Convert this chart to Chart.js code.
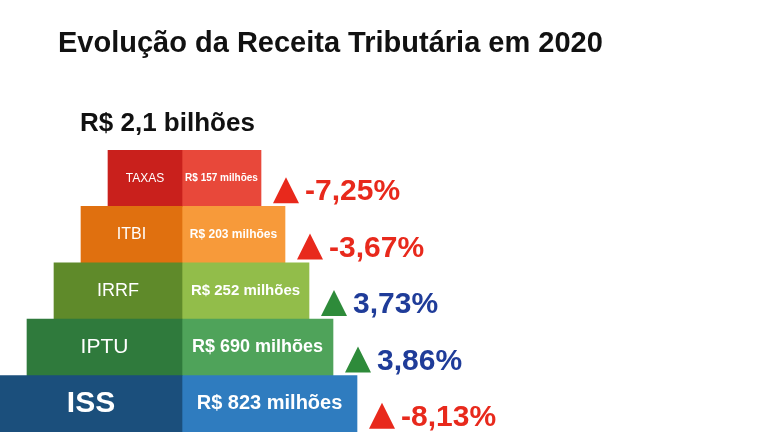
<!DOCTYPE html>
<html><head><meta charset="utf-8">
<script src="https://cdn.jsdelivr.net/npm/chart.js@4/dist/chart.umd.min.js"></script>
<style>html,body{margin:0;background:#fff}#wrap{width:768px;height:432px;position:relative}</style>
</head><body><div id="wrap"><canvas id="c" width="768" height="432"></canvas></div>
<script>
// pyramid, top tier first
var categories = ['TAXAS', 'ITBI', 'IRRF', 'IPTU', 'ISS'];
var receitas = ['R$ 157 milhões', 'R$ 203 milhões', 'R$ 252 milhões', 'R$ 690 milhões', 'R$ 823 milhões'];
var variacao = [-7.25, -3.67, 3.73, 3.86, -8.13];
var total = 'R$ 2,1 bilhões';

var darkColors = ['#c9201c', '#e0700f', '#5f8a2a', '#2f7a3c', '#1b4f7c'];
var lightColors = ['#e8483a', '#f79a3a', '#92bd4a', '#4fa35a', '#2f7cbf'];
var catFont = [12, 16, 18, 21, 30];
var valFont = [10, 12, 15, 18, 20];

// tier extents derived from level in the pyramid (0 = bottom)
var levels = categories.map(function(c, i) { return categories.length - 1 - i; });
var leftFaces = levels.map(function(l) { return [l * 27, 182]; });
var rightFaces = levels.map(function(l) { return [182, 357 - l * 24]; });

var labels = {
	id: 'labels',
	afterDatasetsDraw: function(chart) {
		var ctx = chart.ctx;
		ctx.save();
		ctx.fillStyle = '#111';
		ctx.textBaseline = 'middle';
		ctx.font = 'bold 29px "Liberation Sans", Arial';
		ctx.fillText('Evolução da Receita Tributária em 2020', 58, 44);
		ctx.font = 'bold 26px "Liberation Sans", Arial';
		ctx.fillText(total, 80, 124);
		var m0 = chart.getDatasetMeta(0), m1 = chart.getDatasetMeta(1);
		categories.forEach(function(cat, i) {
			var b0 = m0.data[i], b1 = m1.data[i];
			ctx.fillStyle = '#fff';
			ctx.textAlign = 'center';
			ctx.font = (i == 4 ? 'bold ' : '') + catFont[i] + 'px "Liberation Sans", Arial';
			ctx.fillText(cat, (b0.base + b0.x) / 2, b0.y);
			ctx.font = 'bold ' + valFont[i] + 'px "Liberation Sans Narrow", "Liberation Sans", Arial';
			ctx.fillText(receitas[i], (b1.base + b1.x) / 2, b1.y);
			var x = b1.x + 12, y = b1.y + 12, pos = variacao[i] > 0;
			ctx.fillStyle = pos ? '#2e8b3a' : '#e8291c';
			ctx.beginPath();
			ctx.moveTo(x, y + 13); ctx.lineTo(x + 26, y + 13); ctx.lineTo(x + 13, y - 13);
			ctx.closePath(); ctx.fill();
			ctx.fillStyle = pos ? '#1f3c99' : '#e8291c';
			ctx.textAlign = 'left';
			ctx.font = 'bold 30px "Liberation Sans", Arial';
			ctx.fillText(variacao[i].toFixed(2).replace('.', ',') + '%', x + 32, y + 2);
		});
		ctx.restore();
	}
};

new Chart(document.getElementById('c'), {
	type: 'bar',
	data: {
		labels: categories,
		datasets: [
			{ data: leftFaces, backgroundColor: darkColors, barPercentage: 1, categoryPercentage: 1 },
			{ data: rightFaces, backgroundColor: lightColors, barPercentage: 1, categoryPercentage: 1 }
		]
	},
	options: {
		indexAxis: 'y',
		responsive: false,
		animation: false,
		layout: { padding: { top: 150, left: 0, right: 0, bottom: -10 } },
		plugins: { legend: { display: false }, tooltip: { enabled: false } },
		scales: {
			x: { display: false, min: 0, max: 768 },
			y: { display: false, stacked: true }
		}
	},
	plugins: [labels]
});
</script></body></html>
